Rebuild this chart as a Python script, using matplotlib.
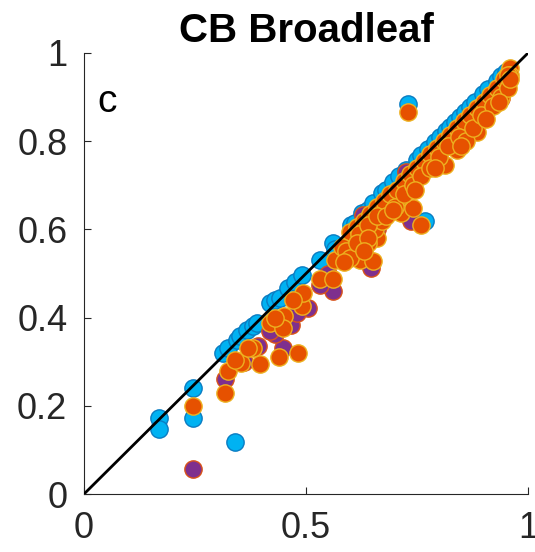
import matplotlib
matplotlib.use("Agg")
import matplotlib.pyplot as plt

plt.rcParams['font.family'] = ['Liberation Sans', 'DejaVu Sans']

# Series 1 (blue)
blue_x = [0.17, 0.17, 0.246, 0.246, 0.34, 0.73, 0.767,
          0.314, 0.325, 0.345, 0.351, 0.366, 0.38, 0.389, 0.419, 0.43, 0.441,
          0.46, 0.475, 0.49, 0.531, 0.561, 0.565, 0.602, 0.61, 0.625, 0.64,
          0.651, 0.67, 0.68, 0.696, 0.71, 0.726, 0.749, 0.76, 0.775, 0.79,
          0.801, 0.815, 0.824, 0.835, 0.846, 0.858, 0.869, 0.88, 0.899, 0.91,
          0.929, 0.94, 0.95]
blue_y = [0.172, 0.147, 0.241, 0.173, 0.117, 0.884, 0.618,
          0.32, 0.332, 0.35, 0.358, 0.373, 0.38, 0.388, 0.433, 0.44, 0.445,
          0.467, 0.48, 0.497, 0.531, 0.569, 0.555, 0.61, 0.615, 0.637, 0.645,
          0.659, 0.682, 0.69, 0.708, 0.72, 0.735, 0.757, 0.768, 0.783, 0.798,
          0.809, 0.823, 0.832, 0.843, 0.854, 0.866, 0.877, 0.888, 0.907, 0.918,
          0.937, 0.948, 0.958]

# Series 2 (purple)
purple_x = [0.246, 0.317, 0.561, 0.531, 0.449, 0.43, 0.505, 0.467, 0.647,
            0.737, 0.629, 0.726, 0.94, 0.392, 0.36, 0.42, 0.60, 0.66, 0.70,
            0.80, 0.86, 0.90, 0.95, 0.55, 0.48, 0.68]
purple_y = [0.057, 0.261, 0.46, 0.475, 0.332, 0.362, 0.422, 0.384, 0.512,
            0.618, 0.633, 0.731, 0.897, 0.335, 0.30, 0.37, 0.56, 0.60, 0.66,
            0.76, 0.82, 0.87, 0.93, 0.50, 0.41, 0.65]

# Series 3 (orange)
orange_x = [0.246, 0.317, 0.325, 0.353, 0.381, 0.396, 0.44, 0.482, 0.419,
            0.45, 0.449, 0.49, 0.494, 0.531, 0.561, 0.565, 0.606, 0.621,
            0.651, 0.625, 0.659, 0.651, 0.677, 0.70, 0.715, 0.741, 0.76,
            0.73, 0.749, 0.771, 0.79, 0.813, 0.816, 0.839, 0.835, 0.861,
            0.887, 0.884, 0.921, 0.944, 0.955, 0.959, 0.73,
            0.666, 0.689, 0.711, 0.734, 0.756, 0.779, 0.801, 0.824, 0.846,
            0.869, 0.891, 0.914, 0.936, 0.951, 0.34, 0.37, 0.43, 0.47,
            0.61, 0.635, 0.64, 0.655, 0.67, 0.69, 0.72, 0.78, 0.83, 0.87,
            0.90, 0.93, 0.945, 0.96, 0.63, 0.60,
            0.60, 0.615, 0.63, 0.645, 0.66, 0.675, 0.69, 0.705, 0.72, 0.735,
            0.75, 0.765, 0.78, 0.795, 0.81, 0.825, 0.84, 0.855, 0.87, 0.885,
            0.90, 0.915, 0.93, 0.945, 0.955,
            0.62, 0.64, 0.66, 0.68, 0.70, 0.72, 0.74, 0.76, 0.78, 0.80,
            0.82, 0.845, 0.86, 0.875, 0.895, 0.92, 0.94, 0.955, 0.96,
            0.58, 0.59, 0.60, 0.615, 0.64, 0.585, 0.63,
            0.745, 0.79, 0.85, 0.905, 0.935, 0.695]
orange_y = [0.2, 0.228, 0.279, 0.298, 0.332, 0.294, 0.311, 0.32, 0.388,
            0.403, 0.377, 0.426, 0.456, 0.488, 0.488, 0.531, 0.561, 0.531,
            0.528, 0.595, 0.58, 0.622, 0.644, 0.674, 0.637, 0.648, 0.61,
            0.701, 0.723, 0.746, 0.772, 0.746, 0.795, 0.78, 0.821, 0.844,
            0.859, 0.821, 0.893, 0.923, 0.953, 0.965, 0.866,
            0.622, 0.652, 0.674, 0.697, 0.727, 0.757, 0.78, 0.803, 0.833,
            0.855, 0.878, 0.90, 0.923, 0.946, 0.305, 0.33, 0.40, 0.44,
            0.58, 0.60, 0.57, 0.60, 0.62, 0.64, 0.69, 0.75, 0.80, 0.85,
            0.87, 0.91, 0.935, 0.95, 0.575, 0.545,
            0.595, 0.605, 0.62, 0.635, 0.65, 0.665, 0.68, 0.69, 0.71, 0.725,
            0.74, 0.755, 0.77, 0.785, 0.80, 0.815, 0.83, 0.845, 0.86, 0.875,
            0.89, 0.905, 0.92, 0.94, 0.95,
            0.59, 0.61, 0.63, 0.63, 0.65, 0.68, 0.70, 0.72, 0.74, 0.765,
            0.79, 0.81, 0.80, 0.83, 0.86, 0.88, 0.90, 0.92, 0.94,
            0.56, 0.55, 0.535, 0.57, 0.58, 0.525, 0.55,
            0.69, 0.74, 0.79, 0.85, 0.89, 0.645]

xticks = [0, 0.5, 1]
yticks = [0, 0.2, 0.4, 0.6, 0.8, 1]
xticklabels = ['0', '0.5', '1']
yticklabels = ['0', '0.2', '0.4', '0.6', '0.8', '1']

fig = plt.figure(figsize=(5.35, 5.52), dpi=100)
ax = fig.add_axes([0.157, 0.105, 0.830, 0.799])

ms = 155
ax.scatter(blue_x, blue_y, s=ms, c='#00B2F2', edgecolors='#0A7CC2',
           linewidths=1.0, zorder=2)
ax.scatter(purple_x, purple_y, s=ms, c='#7E2F8E', edgecolors='#D95319',
           linewidths=1.0, zorder=3)
ax.scatter(orange_x, orange_y, s=ms, c='#E65100', edgecolors='#EDB120',
           linewidths=1.0, zorder=4)

ax.plot([0, 1], [0, 1], color='black', linewidth=2, zorder=5)

ax.set_xlim(0, 1)
ax.set_ylim(0, 1)
ax.set_xticks(xticks)
ax.set_xticklabels(xticklabels)
ax.set_yticks(yticks)
ax.set_yticklabels(yticklabels)

for side in ('top', 'right'):
    ax.spines[side].set_visible(False)
for side in ('left', 'bottom'):
    ax.spines[side].set_color('#262626')
    ax.spines[side].set_linewidth(0.8)

ax.tick_params(direction='in', length=5, width=0.8, colors='#262626',
               labelsize=26, labelcolor='#262626')
ax.tick_params(axis='y', pad=12)
ax.tick_params(axis='x', pad=12)

ax.set_title('CB Broadleaf', fontsize=29, fontweight='bold', pad=8)
ax.text(0.03, 0.93, 'c', transform=ax.transAxes, fontsize=28,
        va='top', ha='left')

fig.savefig('out.png', dpi=100)
